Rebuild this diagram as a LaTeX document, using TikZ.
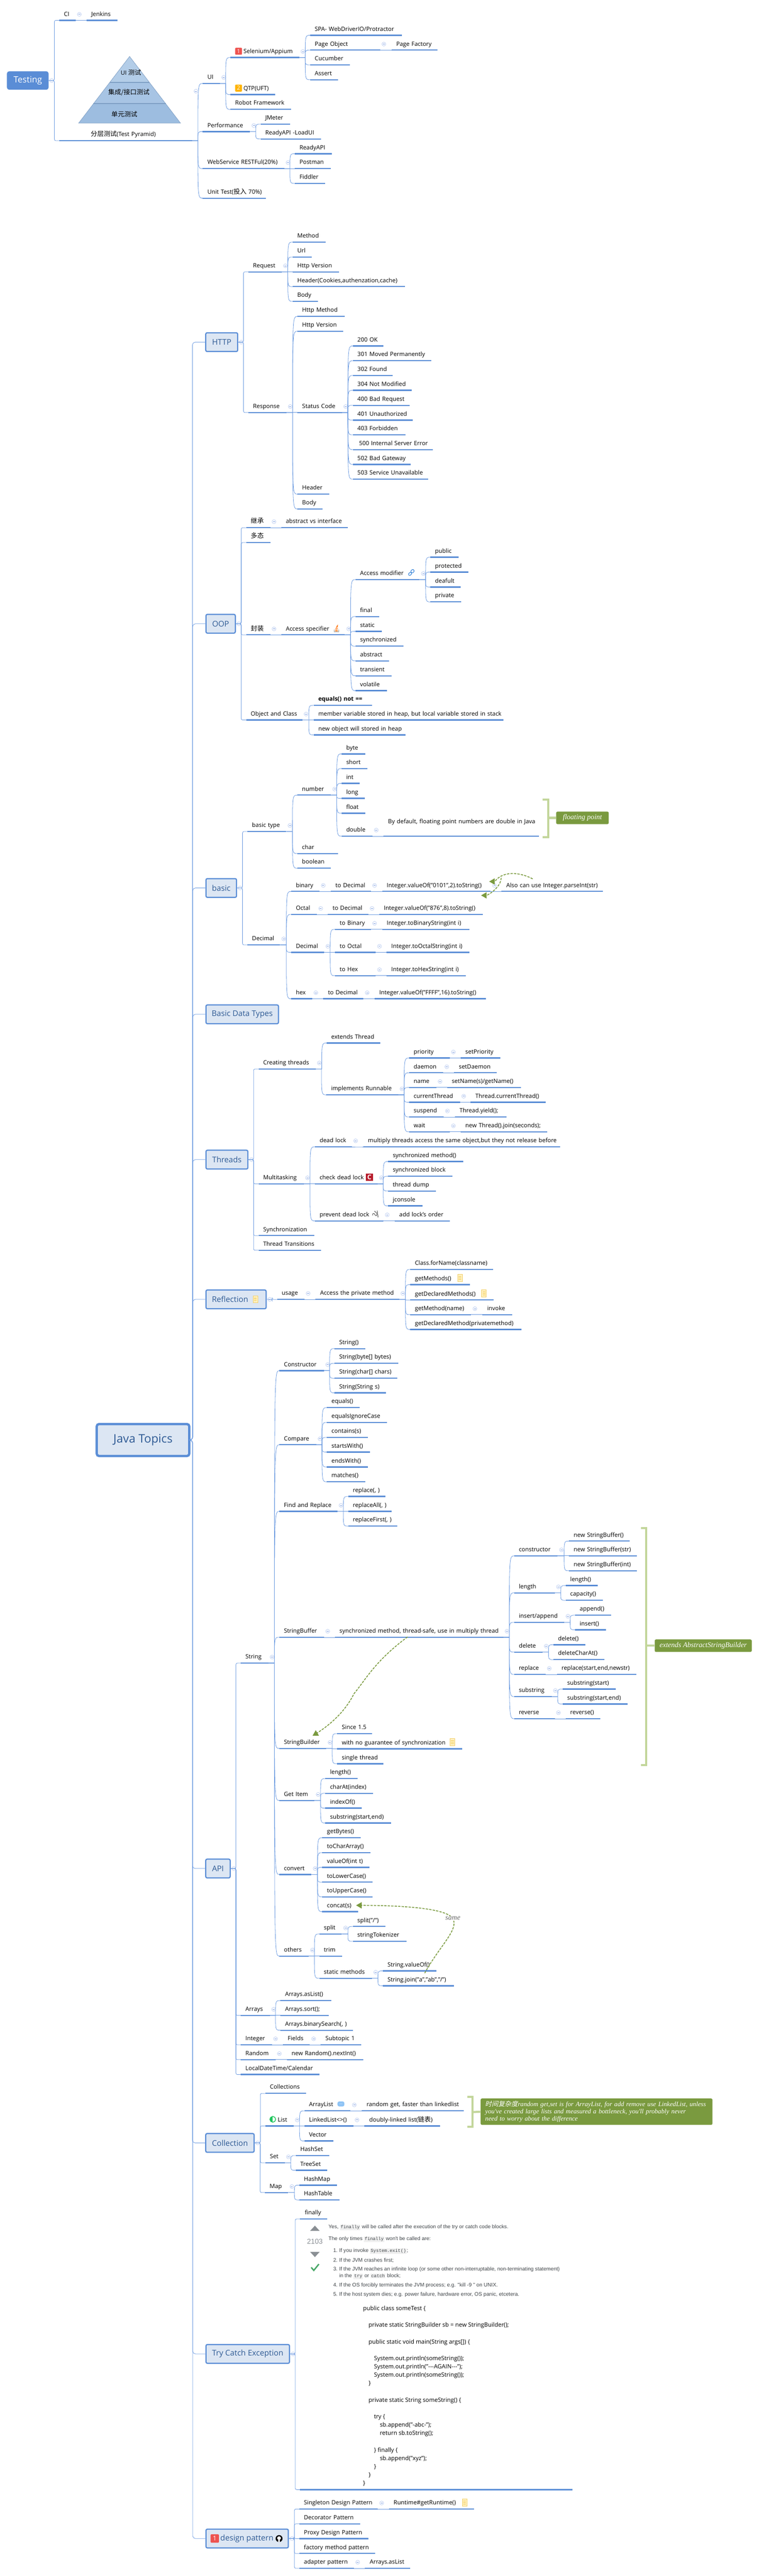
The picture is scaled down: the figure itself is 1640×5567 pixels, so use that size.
\documentclass[tikz,border=0pt]{standalone}
\usepackage{fontspec}
\setmainfont{Open Sans}
\setmonofont{Liberation Mono}
\newfontfamily\cjkfont[Scale=1.1]{Noto Sans CJK SC}
\newfontfamily\cjkslant[FakeSlant=0.2]{Noto Sans CJK SC}
\newfontfamily\sofont{Liberation Sans}
\newfontfamily\notefont{Liberation Serif}
\usetikzlibrary{shapes.geometric}
\definecolor{mapblue}{HTML}{5A8DD6}
\definecolor{twigblue}{HTML}{6C9BE0}
\definecolor{boxfill}{HTML}{DCE6F3}
\definecolor{boxtext}{HTML}{2E5A94}
\definecolor{foldline}{HTML}{BCCDF0}
\definecolor{foldbar}{HTML}{7F9FE0}
\definecolor{noteolive}{HTML}{7A9A3F}
\definecolor{notepale}{HTML}{C3D69B}
\definecolor{sogray}{HTML}{3F4448}
\definecolor{sotri}{HTML}{8A8F94}
\definecolor{sogreen}{HTML}{48A868}
\definecolor{docedge}{HTML}{F2D06B}
\definecolor{docfill}{HTML}{FFF1C2}
\definecolor{docbar}{HTML}{F2C94C}
\definecolor{pyrtop}{HTML}{B3CDE8}
\definecolor{pyrmid}{HTML}{A7C4E4}
\definecolor{pyrbase}{HTML}{9DBDE0}
\definecolor{pyredge}{HTML}{7E9FC4}
\definecolor{badgered}{HTML}{EE5350}
\definecolor{badgeamber}{HTML}{FFB300}
\definecolor{chainblue}{HTML}{2F7FD6}
\definecolor{iconred}{HTML}{B71C2C}
\definecolor{taskgreen}{HTML}{22C55E}
\definecolor{bubbleblue}{HTML}{8EC3F5}
\newcommand{\cjk}[1]{{\cjkfont #1}}
\newcommand{\chip}[1]{{\setlength{\fboxsep}{1.5pt}\colorbox{gray!12}{\ttfamily\fontsize{9.8}{11}\selectfont #1}}}
\tikzstyle{topic} = [anchor=south west, inner xsep=10pt, inner ysep=0pt, minimum height=24pt, text height=9pt, text depth=3pt, align=left, font=\fontsize{12.7}{15}\selectfont]
\tikzstyle{underbar} = [draw=mapblue, line width=2.6pt]
\tikzstyle{twig} = [draw=twigblue, line width=.9pt]
\tikzstyle{mainbox} = [rectangle, rounded corners=3pt, draw=mapblue, line width=2.5pt, fill=boxfill, text=boxtext, anchor=west, minimum height=40.5pt, inner sep=0pt, font=\fontsize{16.9}{20}\selectfont]
\tikzstyle{fold} = [circle, draw=foldline, line width=.8pt, fill=white, minimum size=8.5pt, inner sep=0pt, path picture={\draw[foldbar, line width=.8pt] ([xshift=-2.2pt]path picture bounding box.center) -- ([xshift=2.2pt]path picture bounding box.center);}]
\tikzstyle{notebox} = [rectangle, rounded corners=3pt, fill=noteolive, text=white, inner sep=0pt, font=\notefont\itshape\fontsize{15.6}{15.6}\selectfont]
\tikzstyle{bracketline} = [draw=notepale, line width=4.5pt]
\tikzstyle{relation} = [draw=noteolive, line width=1.8pt, dash pattern=on 5pt off 2.5pt]
\tikzstyle{relationtip} = [isosceles triangle, isosceles triangle apex angle=60, fill=noteolive, inner sep=0pt, minimum height=12pt]
\tikzstyle{docicon} = [rectangle, draw=docedge, fill=docfill, line width=.7pt, minimum width=10pt, minimum height=15pt, inner sep=0pt, path picture={\foreach \dy in {-3,0,3} \draw[docbar, line width=1.2pt] ([xshift=-3pt,yshift=\dy pt]path picture bounding box.center) -- ([xshift=3pt,yshift=\dy pt]path picture bounding box.center);}]
\tikzstyle{badge} = [rectangle, rounded corners=1.5pt, text=white, inner sep=0pt, minimum size=15pt, font=\fontsize{12}{14}\selectfont]
\tikzstyle{soline} = [anchor=west, inner sep=0pt, text=sogray, font=\sofont\fontsize{11.3}{13}\selectfont]
\tikzstyle{vote} = [isosceles triangle, isosceles triangle apex angle=85, fill=sotri, inner sep=0pt, minimum height=11.3pt]
\newcommand{\tp}[5]{%
	\pgfmathsetlengthmacro\tpw{#3-#2-20}
	\node[topic, text width=\tpw](#1) at (#2,#4) {\mbox{#5}};
	\draw[underbar] (#1.south west) -- (#1.south east);
}
\newcommand{\kids}[3][13]{%
	\node[fold](#2fold) at ([shift={(8,-#1)}]#2.south east) {};
	\foreach \kid in {#3} {
		\coordinate (bend) at ([xshift=-10.5pt]\kid.south west);
		\draw[twig] (#2.south east) -- (bend |- #2.south east) .. controls (bend) and (bend) .. (\kid.south west);
	}
}
\newcommand{\boxkids}[2]{%
	\node[fold](#1fold) at ([xshift=6.5pt]#1.east) {};
	\foreach \kid in {#2} {
		\coordinate (bend) at ([xshift=-10.5pt]\kid.south west);
		\draw[twig, rounded corners=3pt] (#1.east) -| (bend) -- (\kid.south west);
	}
}
\begin{document}
\begin{tikzpicture}[x=1pt,y=-1pt]
	\useasboundingbox (0,0) rectangle (1640,5567);
	% testing
	\node[rectangle, rounded corners=5pt, fill=mapblue, text=white, minimum width=90pt, minimum height=40pt, inner sep=0pt, font=\fontsize{18.7}{22}\selectfont](testing) at (60,174) {Testing};
	\tp{ci}{128}{163}{44}{CI}
	\tp{jenkins}{187}{253}{44}{Jenkins}
	\tp{pyramid}{128}{415}{304}{\hspace*{58pt}\cjk{分层测试}(Test Pyramid)}
	\fill[pyrtop] (280,122) -- (322.8,178) -- (237.2,178) -- cycle;
	\fill[pyrmid] (237.2,178) -- (322.8,178) -- (358,224) -- (202,224) -- cycle;
	\fill[pyrbase] (202,224) -- (358,224) -- (390,266) -- (170,266) -- cycle;
	\draw[pyredge, line width=.8pt] (280,122) -- (390,266) -- (170,266) -- cycle;
	\draw[pyredge, line width=2.5pt] (237.2,178) -- (322.8,178);
	\draw[pyredge, line width=2.5pt] (202,224) -- (358,224);
	\node[font=\fontsize{12.7}{15}\selectfont](layerui) at (283,157) {UI \cjk{测试}};
	\node[font=\fontsize{12.7}{15}\selectfont](layerapi) at (278.5,200) {\cjk{集成/接口测试}};
	\node[font=\fontsize{12.7}{15}\selectfont](layerunit) at (268.7,247) {\cjk{单元测试}};
	\tp{ui}{438}{475}{180.3}{UI}
	\tp{selenium}{498}{646}{124.3}{\hspace*{18pt}Selenium/Appium}
	\tp{qtp}{498}{594}{204.3}{\hspace*{18pt}QTP(UFT)}
	\tp{robot}{498}{629}{236.3}{Robot Framework}
	\node[badge, fill=badgered](seleniumbadge) at (515.5,110.7) {1};
	\node[badge, fill=badgeamber](qtpbadge) at (515.5,190.5) {2};
	\tp{spa}{670}{868}{76.3}{SPA- WebDriverIO/Protractor}
	\tp{pageobject}{670}{821}{108.3}{Page Object}
	\tp{pagefactory}{846}{945}{108.3}{Page Factory}
	\tp{cucumber}{670}{756}{140.3}{Cucumber}
	\tp{assert}{670}{730}{172.3}{Assert}
	\tp{perf}{438}{540}{284.3}{Performance}
	\tp{jmeter}{563}{626}{268.3}{JMeter}
	\tp{loadui}{563}{693}{300.3}{ReadyAPI -LoadUI}
	\tp{webservice}{438}{614}{364.3}{WebService RESTFul(20\%)}
	\tp{readyapi}{637}{717}{332.3}{ReadyAPI}
	\tp{postman}{637}{714}{364.3}{Postman}
	\tp{fiddler}{637}{702}{396.3}{Fiddler}
	\tp{unittest}{438}{574}{428.3}{Unit Test(\cjk{投入} 70\%)}
	\boxkids{testing}{ci,pyramid}
	\kids{ci}{jenkins}
	\kids[107]{pyramid}{ui,perf,webservice,unittest}
	\kids{ui}{selenium,qtp,robot}
	\kids{selenium}{spa,pageobject,cucumber,assert}
	\kids{pageobject}{pagefactory}
	\kids{perf}{jmeter,loadui}
	\kids{webservice}{readyapi,postman,fiddler}
	% main topics
	\node[mainbox, rounded corners=5pt, line width=5pt, minimum width=200pt, minimum height=69pt, font=\fontsize{25.3}{30}\selectfont](java) at (206.5,3112) {Java Topics};
	\node[mainbox, minimum width=69pt](http) at (443.3,739.4) {HTTP};
	\node[mainbox, minimum width=63.4pt](oop) at (443.8,1348) {OOP};
	\node[mainbox, minimum width=66pt](basic) at (443.8,1919) {basic};
	\node[mainbox, minimum width=156.7pt](datatypes) at (443.8,2192) {Basic Data Types};
	\node[mainbox, minimum width=90.6pt](threads) at (443.8,2506) {Threads};
	\node[mainbox, minimum width=130pt](reflection) at (443.8,2808) {Reflection\hspace*{26pt}};
	\node[mainbox, minimum width=52.8pt](api) at (443.3,4038) {API};
	\node[mainbox, minimum width=104.5pt](collection) at (443.3,4631) {Collection};
	\node[mainbox, minimum width=180.5pt](trycatch) at (443.8,5087) {Try Catch Exception};
	\node[mainbox, minimum width=178pt](design) at (443.8,5486) {\hspace*{26pt}design pattern\hspace*{27pt}};
	\foreach \kid in {http,oop,basic,datatypes,threads,reflection,api,collection,trycatch,design} {
		\coordinate (bend) at ([xshift=-27.5pt]\kid.west);
		\draw[twig, rounded corners=6pt] (java.east) -| (bend) -- (\kid.west);
	}
	% http
	\tp{request}{536.6}{608.3}{587.5}{Request}
	\tp{response}{536.6}{618.7}{891.6}{Response}
	\tp{method}{632.4}{703.6}{523.2}{Method}
	\tp{url}{632.4}{673.2}{555.5}{Url}
	\tp{reqversion}{632.4}{731.7}{587.5}{Http Version}
	\tp{reqheader}{632.4}{874.7}{619.4}{Header(Cookies,authenzation,cache)}
	\tp{reqbody}{632.4}{686.4}{651.4}{Body}
	\tp{respmethod}{642.8}{744.4}{683.7}{Http Method}
	\tp{respversion}{642.8}{741.5}{715.7}{Http Version}
	\tp{status}{642.8}{738.6}{891.6}{Status Code}
	\tp{respheader}{642.8}{710.5}{1068}{Header}
	\tp{respbody}{642.8}{696.7}{1100}{Body}
	\tp{sa}{762.2}{827.6}{747.6}{200 OK}
	\tp{sb}{762.2}{931.5}{779.6}{301 Moved Permanently}
	\tp{sc}{762.2}{848.3}{811.5}{302 Found}
	\tp{sd}{762.2}{889.6}{843.5}{304 Not Modified}
	\tp{se}{762.2}{884.4}{875.9}{400 Bad Request}
	\tp{sf}{762.2}{891.3}{907.8}{401 Unauthorized}
	\tp{sg}{762.2}{875.3}{939.8}{403 Forbidden}
	\tp{sh}{762.2}{934.4}{971.7}{\hspace*{3.4pt}500 Internal Server Error}
	\tp{si}{762.2}{887.3}{1003.6}{502 Bad Gateway}
	\tp{sj}{762.2}{924.6}{1035.6}{503 Service Unavailable}
	\boxkids{http}{request,response}
	\kids{request}{method,url,reqversion,reqheader,reqbody}
	\kids{response}{respmethod,respversion,status,respheader,respbody}
	\kids{status}{sa,sb,sc,sd,se,sf,sg,sh,si,sj}
	% oop
	\tp{inherit}{531.7}{583.6}{1140.4}{\cjk{继承}}
	\tp{absvs}{607.5}{751.3}{1140.4}{abstract vs interface}
	\tp{poly}{531.7}{583.6}{1172.5}{\cjk{多态}}
	\tp{encap}{531.7}{583.6}{1372}{\cjk{封装}}
	\tp{specifier}{607.5}{745}{1372}{Access specifier}
	\tp{modifier}{768}{906.3}{1252.5}{Access modifier}
	\tp{public}{930}{990.5}{1204.3}{public}
	\tp{protected}{930}{1012.2}{1236.4}{protected}
	\tp{deafult}{930}{995.4}{1268.6}{deafult}
	\tp{private}{930}{996}{1300.7}{private}
	\tp{final}{768}{818.6}{1332.5}{final}
	\tp{static}{768}{824.2}{1364.6}{static}
	\tp{synchro}{768}{871.2}{1396.4}{synchronized}
	\tp{abstract}{768}{840.4}{1428.2}{abstract}
	\tp{transient}{768}{845.3}{1460.4}{transient}
	\tp{volatile}{768}{835.4}{1492.5}{volatile}
	\tp{objclass}{531.7}{653}{1556}{Object and Class}
	\tp{equalsnot}{677.6}{803.2}{1524.3}{\textbf{equals() not ==}}
	\tp{member}{677.6}{1087.3}{1556}{member variable stored in heap, but local variable stored in stack}
	\tp{newobj}{677.6}{876}{1588.2}{new object will stored in heap}
	\boxkids{oop}{inherit,poly,encap,objclass}
	\kids{inherit}{absvs}
	\kids{encap}{specifier}
	\kids{specifier}{modifier,final,static,synchro,abstract,transient,volatile}
	\kids{modifier}{public,protected,deafult,private}
	\kids{objclass}{equalsnot,member,newobj}
	% stack overflow and chain icons
	\begin{scope}[shift={(727,1358.6)}]
		\draw[gray!75, line width=1pt] (-5,2) -- (-5,7) -- (5,7) -- (5,2);
		\draw[orange!85!red, line width=1.2pt] (-3,5) -- (3,5) (-3,3) -- (3,2.5) (-2.5,0.5) -- (3,-1) (-1,-2) -- (3,-5) (0.5,-4.5) -- (3,-8);
	\end{scope}
	\begin{scope}[shift={(888.8,1238)}]
		\draw[chainblue, line width=1.2pt, rounded corners=1.5pt] (-7,3) -- (-2,-2) -- (1.5,1.5) -- (-3.5,6.5) -- cycle;
		\draw[chainblue, line width=1.2pt, rounded corners=1.5pt] (-2,-3) -- (3,-8) -- (7,-4) -- (2,1) -- cycle;
	\end{scope}
	% basic
	\tp{basictype}{534.5}{618}{1797}{basic type}
	\tp{number}{642.5}{714.8}{1718.3}{number}
	\tp{byte}{738}{789}{1629.3}{byte}
	\tp{short}{738}{793.3}{1661}{short}
	\tp{int}{738}{777.2}{1693}{int}
	\tp{long}{738}{788.4}{1725.2}{long}
	\tp{float}{738}{789}{1757.3}{float}
	\tp{double}{738}{804.6}{1807}{double}
	\tp{bydefault}{828.4}{1164.4}{1807}{\smash{\raisebox{18pt}{By default, floating point numbers are double in Java}}}
	\tp{char}{642.5}{729.5}{1844.6}{char}
	\tp{boolean}{642.5}{714}{1876.3}{boolean}
	\tp{decimal}{534.5}{604.6}{2042}{Decimal}
	\tp{binary}{629.2}{690.2}{1926.5}{binary}
	\tp{bindec}{714.8}{801}{1926.5}{to Decimal}
	\tp{binval}{825.6}{1060}{1926.5}{Integer.valueOf("0101",2).toString()}
	\tp{binalso}{1083.8}{1302}{1926.5}{Also can use Integer.parseInt(str)}
	\tp{octal}{629.2}{684.6}{1976.2}{Octal}
	\tp{octdec}{708.5}{795.5}{1976.2}{to Decimal}
	\tp{octval}{819.3}{1042.4}{1976.2}{Integer.valueOf("876",8).toString()}
	\tp{decimalb}{629.2}{700}{2058}{Decimal}
	\tp{tobin}{724}{801}{2008.4}{to Binary}
	\tp{tobinval}{825.6}{1014.3}{2008.4}{Integer.toBinaryString(int i)}
	\tp{tooct}{724}{811.6}{2058}{to Octal}
	\tp{tooctval}{835.4}{1013.6}{2058}{Integer.toOctalString(int i)}
	\tp{tohex}{724}{811.6}{2108.6}{to Hex}
	\tp{tohexval}{835.4}{1006.6}{2108.6}{Integer.toHexString(int i)}
	\tp{hex}{629.2}{674}{2158.4}{hex}
	\tp{hexdec}{698.6}{785}{2158.4}{to Decimal}
	\tp{hexval}{809.5}{1050}{2158.4}{Integer.valueOf("FFFF",16).toString()}
	\boxkids{basic}{basictype,decimal}
	\kids{basictype}{number,char,boolean}
	\kids{number}{byte,short,int,long,float,double}
	\kids{double}{bydefault}
	\kids{decimal}{binary,octal,decimalb,hex}
	\kids{binary}{bindec}
	\kids{bindec}{binval}
	\kids{binval}{binalso}
	\kids{octal}{octdec}
	\kids{octdec}{octval}
	\kids{decimalb}{tobin,tooct,tohex}
	\kids{tobin}{tobinval}
	\kids{tooct}{tooctval}
	\kids{tohex}{tohexval}
	\kids{hex}{hexdec}
	\kids{hexdec}{hexval}
	\node[notebox, minimum width=113.7pt, minimum height=27pt](floatnote) at (1258.5,1767.5) {floating point};
	\coordinate (floattop) at (1172,1728.5);
	\coordinate (floatbot) at (1172,1809.5);
	\draw[bracketline] (floattop) -- (1185,1728.5) -- (1185,1809.5) -- (floatbot);
	\draw[bracketline] (1185,1767.5) -- (floatnote.west);
	\node[relationtip, shape border rotate=180](tipalso) at (1065,1905) {};
	\node[relationtip, shape border rotate=180](tipval) at (1047.5,1935) {};
	\coordinate (alsostart) at (1151,1899.3);
	\coordinate (alsoturn) at (1083,1897);
	\draw[relation] (alsostart) .. controls (1122,1884) and (1086,1882) .. (tipalso.east);
	\draw[relation] (alsoturn) .. controls (1083,1912) and (1066,1928) .. (tipval.east);
	% threads
	\tp{creating}{558.5}{681.6}{2310.2}{Creating threads}
	\tp{extendst}{705.7}{821.4}{2254}{extends Thread}
	\tp{runnable}{705.2}{860.2}{2366.1}{implements Runnable}
	\tp{priority}{883.8}{971.2}{2286.5}{priority}
	\tp{setpriority}{995.4}{1080.2}{2286.5}{setPriority}
	\tp{daemon}{883.8}{957}{2318.4}{daemon}
	\tp{setdaemon}{981.4}{1073.2}{2318.4}{setDaemon}
	\tp{tname}{883.8}{942.5}{2350.2}{name}
	\tp{setname}{966}{1125.5}{2350.2}{setName(s)/getName()}
	\tp{current}{883.8}{993.5}{2382}{currentThread}
	\tp{currentcall}{1017}{1179}{2382}{Thread.currentThread()}
	\tp{suspend}{883.8}{958.4}{2413.9}{suspend}
	\tp{yield}{982.7}{1093.6}{2413.9}{Thread.yield();}
	\tp{wait}{883.8}{971.2}{2446}{wait}
	\tp{join}{995.4}{1182.3}{2446}{new Thread().join(seconds);}
	\tp{multi}{558.5}{656}{2558.4}{Multitasking}
	\tp{deadlock}{680.4}{760}{2478.4}{dead lock}
	\tp{multiply}{785}{1210.3}{2478.4}{multiply threads access the same object,but they not release before}
	\tp{checkdead}{680.4}{815.6}{2558.4}{check dead lock}
	\tp{syncmeth}{838.5}{1001}{2510.2}{synchronized method()}
	\tp{syncblock}{838.5}{977.6}{2542}{synchronized block}
	\tp{dump}{838.5}{941.2}{2573.9}{thread dump}
	\tp{jconsole}{838.5}{912.5}{2606}{jconsole}
	\tp{prevent}{680.4}{828.3}{2638.4}{prevent dead lock}
	\tp{lockorder}{852.6}{971.2}{2638.4}{add lock's order}
	\tp{synchron}{558.5}{678.4}{2670.2}{Synchronization}
	\tp{transitions}{558.5}{693.1}{2702}{Thread Transitions}
	\boxkids{threads}{creating,multi,synchron,transitions}
	\kids{creating}{extendst,runnable}
	\kids{runnable}{priority,daemon,tname,current,suspend,wait}
	\kids{priority}{setpriority}
	\kids{daemon}{setdaemon}
	\kids{tname}{setname}
	\kids{current}{currentcall}
	\kids{suspend}{yield}
	\kids{wait}{join}
	\kids{multi}{deadlock,checkdead,prevent}
	\kids{deadlock}{multiply}
	\kids{checkdead}{syncmeth,syncblock,dump,jconsole}
	\kids{prevent}{lockorder}
	\node[rectangle, fill=iconred, text=white, inner sep=0pt, minimum size=15.5pt, font=\bfseries\fontsize{14}{15}\selectfont](cicon) at (798.3,2543.7) {C};
	\draw[black!70, line width=1pt] (805,2627) .. controls (804,2621) and (809,2621) .. (810,2625) .. controls (812,2629) and (816,2627) .. (814,2622) .. controls (812,2618) and (808,2619) .. (810,2617) (815,2616) -- (817,2631);
	% reflection
	\tp{usage}{598.7}{657.4}{2808.2}{usage}
	\tp{accessmeth}{681.6}{862}{2808.2}{Access the private method}
	\tp{forname}{886.4}{1065.6}{2743.3}{Class.forName(classname)}
	\tp{getmeths}{886.4}{1014.6}{2776.3}{getMethods()}
	\tp{getdecls}{886.4}{1066.2}{2809.4}{getDeclaredMethods()}
	\tp{getmeth}{886.4}{1017.7}{2841.2}{getMethod(name)}
	\tp{invoke}{1042.6}{1106.4}{2841.2}{invoke}
	\tp{getdecl}{886.4}{1126}{2873}{getDeclaredMethod(privatemethod)}
	\boxkids{reflection}{usage}
	\kids{usage}{accessmeth}
	\kids{accessmeth}{forname,getmeths,getdecls,getmeth,getdecl}
	\kids{getmeth}{invoke}
	\node[docicon](docreflection) at (551.5,2807.8) {};
	\node[docicon](docgetmeths) at (994,2761.6) {};
	\node[docicon](docgetdecls) at (1045.8,2795) {};
	% api
	\tp{string}{520.3}{579.5}{3594.1}{String}
	\tp{construct}{603.4}{699.6}{2962}{Constructor}
	\tp{ctora}{722.7}{789.3}{2914.5}{String()}
	\tp{ctorb}{722.7}{860}{2946.3}{String(byte[] bytes)}
	\tp{ctorc}{722.7}{858.4}{2978.5}{String(char[] chars)}
	\tp{ctord}{722.7}{833}{3010.2}{String(String s)}
	\tp{compare}{603.4}{683.2}{3122.3}{Compare}
	\tp{cmpa}{706.2}{776.2}{3042}{equals()}
	\tp{cmpb}{706.2}{836.2}{3074}{equalsIgnoreCase}
	\tp{cmpc}{706.2}{794.3}{3106.3}{contains(s)}
	\tp{cmpd}{706.2}{799.2}{3138}{startsWith()}
	\tp{cmpe}{706.2}{794.3}{3170.2}{endsWith()}
	\tp{cmpf}{706.2}{788.5}{3202.3}{matches()}
	\tp{findrep}{603.4}{728.4}{3266.2}{Find and Replace}
	\tp{repa}{752.3}{832}{3234}{replace(, )}
	\tp{repb}{752.3}{846}{3266.2}{replaceAll(, )}
	\tp{repc}{752.3}{858.4}{3298}{replaceFirst(, )}
	\tp{sbuffer}{603.4}{699.6}{3538.3}{StringBuffer}
	\tp{syncsafe}{723.5}{1087.1}{3538.3}{synchronized method, thread-safe, use in multiply thread}
	\tp{bufctor}{1111}{1204.8}{3362.3}{constructor}
	\tp{nsba}{1229.5}{1360.3}{3330.5}{new StringBuffer()}
	\tp{nsbb}{1229.5}{1376}{3362.3}{new StringBuffer(str)}
	\tp{nsbc}{1229.5}{1376}{3394.5}{new StringBuffer(int)}
	\tp{buflen}{1111}{1198.2}{3442.3}{length}
	\tp{lena}{1222}{1291.2}{3426.6}{length()}
	\tp{lenb}{1222}{1301.9}{3458.4}{capacity()}
	\tp{bufins}{1111}{1218.8}{3506}{insert/append}
	\tp{insa}{1242.6}{1320}{3490.5}{append()}
	\tp{insb}{1242.6}{1308.4}{3522.2}{insert()}
	\tp{bufdel}{1111}{1171.9}{3570.4}{delete}
	\tp{dela}{1195.7}{1264}{3554.3}{delete()}
	\tp{delb}{1195.7}{1305.2}{3586.5}{deleteCharAt()}
	\tp{bufrep}{1111}{1178.5}{3618.6}{replace}
	\tp{repnew}{1203.2}{1374.3}{3618.6}{replace(start,end,newstr)}
	\tp{bufsub}{1111}{1191.6}{3666.5}{substring}
	\tp{suba}{1215.5}{1329.8}{3650.4}{substring(start)}
	\tp{subb}{1215.5}{1356.2}{3682.5}{substring(start,end)}
	\tp{bufrev}{1111}{1198.2}{3714.3}{reverse}
	\tp{revcall}{1222}{1297}{3714.3}{reverse()}
	\tp{sbuilder}{603.4}{704.6}{3778.6}{StringBuilder}
	\tp{since}{728.4}{803.3}{3746.5}{Since 1.5}
	\tp{noguar}{728.4}{998.3}{3779.4}{with no guarantee of synchronization}
	\tp{single}{728.4}{828}{3811.5}{single thread}
	\tp{getitem}{603.4}{679}{3891}{Get Item}
	\tp{geta}{703}{772}{3843.7}{length()}
	\tp{getb}{703}{805.8}{3875.4}{charAt(index)}
	\tp{getc}{703}{781}{3907.6}{indexOf()}
	\tp{getd}{703}{844.4}{3939.7}{substring(start,end)}
	\tp{convert}{603.4}{672.5}{4051}{convert}
	\tp{cona}{696.4}{779.5}{3971.5}{getBytes()}
	\tp{conb}{696.4}{800}{4003.6}{toCharArray()}
	\tp{conc}{696.4}{797.5}{4035.4}{valueOf(int t)}
	\tp{cond}{696.4}{805}{4067.5}{toLowerCase()}
	\tp{cone}{696.4}{805}{4099.3}{toUpperCase()}
	\tp{conf}{696.4}{772.9}{4131.2}{concat(s)}
	\tp{others}{603.4}{666.7}{4227.3}{others}
	\tp{split}{689.8}{738.3}{4179.5}{split}
	\tp{splita}{762.2}{832.9}{4163.3}{split("/")}
	\tp{splitb}{762.2}{878.2}{4195.3}{stringTokenizer}
	\tp{trim}{689.8}{739}{4227.3}{trim}
	\tp{statics}{689.8}{803.3}{4275.2}{static methods}
	\tp{statica}{827.2}{942.3}{4259.3}{String.valueOf()}
	\tp{staticb}{827.2}{981}{4291.4}{String.join("a","ab","/")}
	\tp{arrays}{520.3}{582.8}{4355.4}{Arrays}
	\tp{arra}{605.9}{715.3}{4323.4}{Arrays.asList()}
	\tp{arrb}{605.9}{709.5}{4355.4}{Arrays.sort();}
	\tp{arrc}{605.9}{762.2}{4387.5}{Arrays.binarySearch(, )}
	\tp{integer}{520.3}{587}{4419}{Integer}
	\tp{fields}{611.6}{669.2}{4419}{Fields}
	\tp{subtopic}{693}{780.3}{4419}{Subtopic 1}
	\tp{random}{520.3}{595.2}{4451.1}{Random}
	\tp{nextint}{619.8}{784.4}{4451.1}{new Random().nextInt()}
	\tp{localdate}{520.3}{689.8}{4483.2}{LocalDateTime/Calendar}
	\boxkids{api}{string,arrays,integer,random,localdate}
	\kids{string}{construct,compare,findrep,sbuffer,sbuilder,getitem,convert,others}
	\kids{construct}{ctora,ctorb,ctorc,ctord}
	\kids{compare}{cmpa,cmpb,cmpc,cmpd,cmpe,cmpf}
	\kids{findrep}{repa,repb,repc}
	\kids{sbuffer}{syncsafe}
	\kids{syncsafe}{bufctor,buflen,bufins,bufdel,bufrep,bufsub,bufrev}
	\kids{bufctor}{nsba,nsbb,nsbc}
	\kids{buflen}{lena,lenb}
	\kids{bufins}{insa,insb}
	\kids{bufdel}{dela,delb}
	\kids{bufrep}{repnew}
	\kids{bufsub}{suba,subb}
	\kids{bufrev}{revcall}
	\kids{sbuilder}{since,noguar,single}
	\kids{getitem}{geta,getb,getc,getd}
	\kids{convert}{cona,conb,conc,cond,cone,conf}
	\kids{others}{split,trim,statics}
	\kids{split}{splita,splitb}
	\kids{statics}{statica,staticb}
	\kids{arrays}{arra,arrb,arrc}
	\kids{integer}{fields}
	\kids{fields}{subtopic}
	\kids{random}{nextint}
	\node[docicon](docguar) at (977.7,3764.8) {};
	\node[notebox, minimum width=209.8pt, minimum height=27pt](extendsnote) at (1519.5,3556.5) {extends AbstractStringBuilder};
	\coordinate (exttop) at (1385,3302);
	\coordinate (extbot) at (1385,3814);
	\draw[bracketline] (exttop) -- (1396.5,3302) -- (1396.5,3814) -- (extbot);
	\draw[bracketline] (1396.5,3556.5) -- (extendsnote.west);
	\node[relationtip, shape border rotate=90](tipbuilder) at (682.3,3747) {};
	\coordinate (bufstart) at (880.6,3537.5);
	\draw[relation] (bufstart) .. controls (810,3590) and (790,3630) .. (765,3660) .. controls (750,3690) and (725,3720) .. (tipbuilder.center);
	\node[relationtip, shape border rotate=180](tipconcat) at (777.5,4117.6) {};
	\coordinate (joinstart) at (917.7,4264.1);
	\draw[relation] (joinstart) .. controls (950,4205) and (992,4170) .. (978.5,4146) .. controls (965,4125) and (880,4118) .. (tipconcat.east);
	\node[fill=white, inner sep=1pt, text=black!60, font=\notefont\itshape\fontsize{15.6}{17}\selectfont](samelabel) at (978.5,4145.9) {same};
	% collection
	\tp{collections}{573}{661}{4523.9}{Collections}
	\tp{list}{573}{633.8}{4594.3}{\hspace*{17pt}List}
	\tp{arraylist}{657.7}{757.2}{4561.8}{ArrayList}
	\tp{randomget}{782}{1001.6}{4561.8}{random get, faster than linkedlist}
	\tp{linkedlist}{657.7}{763}{4594.3}{LinkedList<>()}
	\tp{doubly}{787.7}{950.6}{4594.3}{doubly-linked list(\cjk{链表})}
	\tp{vector}{657.7}{720.2}{4626.7}{Vector}
	\tp{set}{573}{614.9}{4674.1}{Set}
	\tp{hashset}{638.8}{711.2}{4658.3}{HashSet}
	\tp{treeset}{638.8}{706.2}{4690.3}{TreeSet}
	\tp{map}{572.6}{622.3}{4738.3}{Map}
	\tp{hashmap}{646.6}{727.6}{4722.3}{HashMap}
	\tp{hashtable}{646.6}{733.3}{4754.3}{HashTable}
	\boxkids{collection}{collections,list,set,map}
	\kids{list}{arraylist,linkedlist,vector}
	\kids{arraylist}{randomget}
	\kids{linkedlist}{doubly}
	\kids{set}{hashset,treeset}
	\kids{map}{hashmap,hashtable}
	\node[circle, draw=taskgreen, line width=1.6pt, fill=white, minimum size=12.5pt, inner sep=0pt, path picture={\fill[taskgreen] (path picture bounding box.north west) rectangle (path picture bounding box.south);}](listicon) at (589.4,4580) {};
	\node[rectangle, rounded corners=4pt, fill=bubbleblue, minimum width=15pt, minimum height=11pt, inner sep=0pt, text=white, font=\fontsize{8}{8}\selectfont](bubble) at (736.7,4546.8) {...};
	\node[notebox, text width=481pt, minimum width=501pt, minimum height=57pt, align=left, font=\notefont\itshape\fontsize{14.1}{15.6}\selectfont](listnote) at (1289,4563.5) {\mbox{{\cjkslant 时间复杂度}random get,set is for ArrayList, for add remove use LinkedList, unless}\\you've created large lists and measured a bottleneck, you'll probably never\\need to worry about the difference};
	\coordinate (listtop) at (1009.8,4532);
	\coordinate (listbot) at (1009.8,4596.5);
	\draw[bracketline] (listtop) -- (1020.5,4532) -- (1020.5,4596.5) -- (listbot);
	\draw[bracketline] (1020.5,4564.5) -- (listnote.west);
	% try catch
	\tp{finallyt}{648.5}{707.1}{4795.3}{finally}
	\tp{answer}{648.5}{1236.5}{5380.3}{}
	\boxkids{trycatch}{finallyt,answer}
	\node[vote, shape border rotate=90](voteup) at (680.4,4816.6) {};
	\node[inner sep=0pt, text=sotri, font=\sofont\fontsize{15.3}{18}\selectfont](votes) at (680.4,4844) {2103};
	\node[vote, shape border rotate=270](votedown) at (680.4,4871) {};
	\draw[sogreen, line width=3pt] (672.5,4900) -- (678,4906.5) -- (689,4893);
	\node[soline](soyes) at (709.7,4813.3) {Yes, \chip{finally} will be called after the execution of the try or catch code blocks.};
	\node[soline](sotimes) at (709.7,4839.3) {The only times \chip{finally} won't be called are:};
	\node[soline](soa) at (719.9,4864.7) {\makebox[12.8pt][l]{1.}If you invoke \chip{System.exit()};};
	\node[soline](sob) at (719.9,4885) {\makebox[12.8pt][l]{2.}If the JVM crashes first;};
	\node[soline](soc) at (719.9,4904.7) {\makebox[12.8pt][l]{3.}If the JVM reaches an infinite loop (or some other non-interruptable, non-terminating statement)};
	\node[soline](socc) at (732.7,4919.3) {in the \chip{try} or \chip{catch} block;};
	\node[soline](sod) at (719.9,4938.7) {\makebox[12.8pt][l]{4.}If the OS forcibly terminates the JVM process; e.g. "kill -9 " on UNIX.};
	\node[soline](soe) at (719.9,4958.7) {\makebox[12.8pt][l]{5.}If the host system dies; e.g. power failure, hardware error, OS panic, etcetera.};
	\node[anchor=south west, inner sep=0pt, align=left, font=\fontsize{12.7}{18}\selectfont](somecode) at (784.3,5373) {%
		public class someTest \{\\[18pt]
		\hspace*{12pt}private static StringBuilder sb = new StringBuilder();\\[18pt]
		\hspace*{12pt}public static void main(String args[]) \{\\[18pt]
		\hspace*{23.6pt}System.out.println(someString());\\
		\hspace*{23.6pt}System.out.println("-{}-{}-AGAIN-{}-{}-");\\
		\hspace*{23.6pt}System.out.println(someString());\\
		\hspace*{12pt}\}\\[18pt]
		\hspace*{12pt}private static String someString() \{\\[18pt]
		\hspace*{23.6pt}try \{\\
		\hspace*{36.4pt}sb.append("-abc-");\\
		\hspace*{36.4pt}return sb.toString();\\[18pt]
		\hspace*{23.6pt}\} finally \{\\
		\hspace*{36.4pt}sb.append("xyz");\\
		\hspace*{23.6pt}\}\\
		\hspace*{12pt}\}\\
		\}};
	% design pattern
	\tp{singleton}{646.6}{816.2}{5422.3}{Singleton Design Pattern}
	\tp{runtimecall}{840.4}{1024.1}{5422.3}{Runtime\#getRuntime()}
	\tp{decorator}{646.6}{777.3}{5454.3}{Decorator Pattern}
	\tp{proxy}{646.6}{795.2}{5486.3}{Proxy Design Pattern}
	\tp{factory}{646.6}{810.5}{5518.3}{factory method pattern}
	\tp{adapter}{646.6}{764.5}{5550.3}{adapter pattern}
	\tp{aslist}{788.8}{886.3}{5550.3}{Arrays.asList}
	\boxkids{design}{singleton,decorator,proxy,factory,adapter}
	\kids{singleton}{runtimecall}
	\kids{adapter}{aslist}
	\node[docicon](docruntime) at (1003.7,5408.3) {};
	\node[badge, fill=badgered, minimum size=18pt, font=\fontsize{14}{16}\selectfont](designbadge) at (464,5486) {1};
	\fill[black] (603,5486) circle (7.5);
	\fill[white] (603,5485) ellipse (4.2 and 3.8);
	\fill[white] (601,5488) rectangle (605,5493.5);
\end{tikzpicture}
\end{document}
